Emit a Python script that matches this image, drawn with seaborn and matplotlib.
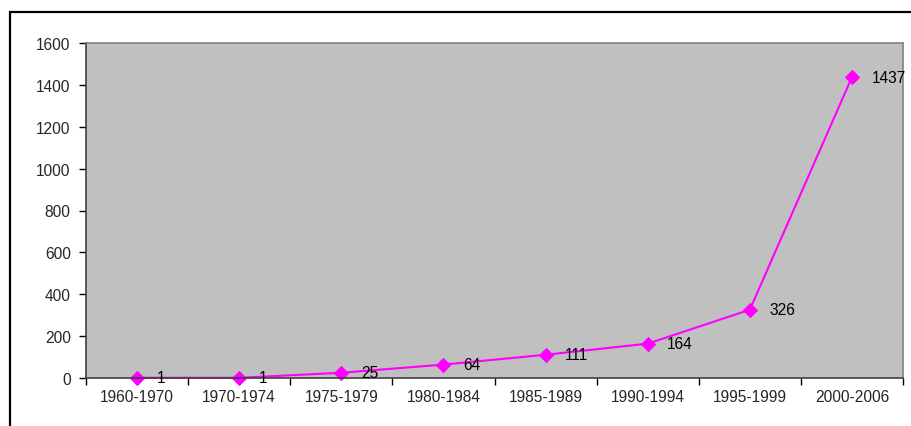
import matplotlib
matplotlib.use("Agg")
import matplotlib.pyplot as plt
from matplotlib import font_manager
from matplotlib.patches import Rectangle
from matplotlib.ticker import FixedLocator
import seaborn as sns
import pandas as pd

periods = ['1960-1970', '1970-1974', '1975-1979', '1980-1984',
           '1985-1989', '1990-1994', '1995-1999', '2000-2006']
counts = [1, 1, 25, 64, 111, 164, 326, 1437]
y_ticks = [0, 200, 400, 600, 800, 1000, 1200, 1400, 1600]

sns.set_theme(style='white')
plt.rcParams['font.family'] = ['Liberation Sans', 'DejaVu Sans']

# pick the regular (not narrow) Liberation Sans file explicitly
fs = 11.2
font_file = None
for f in font_manager.findSystemFonts():
    if f.endswith('LiberationSans-Regular.ttf'):
        font_file = f
        break
if font_file:
    fp = font_manager.FontProperties(fname=font_file, size=fs)
else:
    fp = font_manager.FontProperties(family='Liberation Sans', size=fs)

df = pd.DataFrame({'period': periods, 'count': counts})

fig = plt.figure(figsize=(9.11, 4.27), dpi=100)
ax = fig.add_axes([86 / 911, 1 - 379 / 427, (903 - 86) / 911, (379 - 44) / 427])
ax.set_facecolor('#C0C0C0')

sns.lineplot(data=df, x='period', y='count', ax=ax, sort=False,
             color='#FF00FF', linewidth=1.5, marker='D', markersize=7,
             markeredgecolor='#FF00FF', clip_on=False)

for i, v in enumerate(counts):
    ax.annotate(str(v), (i, v), xytext=(14, 0), textcoords='offset points',
                va='center', ha='left', fontproperties=fp, color='black')

ax.set_xlim(-0.5, len(periods) - 0.5)
ax.set_ylim(0, 1600)
ax.set_yticks(y_ticks)
ax.set_yticklabels([str(t) for t in y_ticks], fontproperties=fp)
ax.set_xticks(range(len(periods)))
ax.set_xticklabels(periods, fontproperties=fp)
ax.xaxis.set_minor_locator(FixedLocator([i - 0.5 for i in range(len(periods) + 1)]))
ax.tick_params(axis='x', which='major', length=0, pad=8)
ax.tick_params(axis='x', which='minor', bottom=True, length=5, width=1, color='black', direction='out')
ax.tick_params(axis='y', left=True, length=5, width=1, color='black', direction='out', pad=6)
ax.set_xlabel('')
ax.set_ylabel('')

for side in ['left', 'bottom']:
    ax.spines[side].set_color('#404040')
    ax.spines[side].set_linewidth(1.2)
for side in ['top', 'right']:
    ax.spines[side].set_color('#808080')
    ax.spines[side].set_linewidth(1.2)

# outer chart frame, partly cut off in the reference
fig.add_artist(Rectangle((9.5 / 911, -0.1), 1.2, 1.1 - 12.5 / 427,
                         transform=fig.transFigure, fill=False,
                         edgecolor='black', linewidth=1.6))

fig.savefig('out.png', dpi=100)
